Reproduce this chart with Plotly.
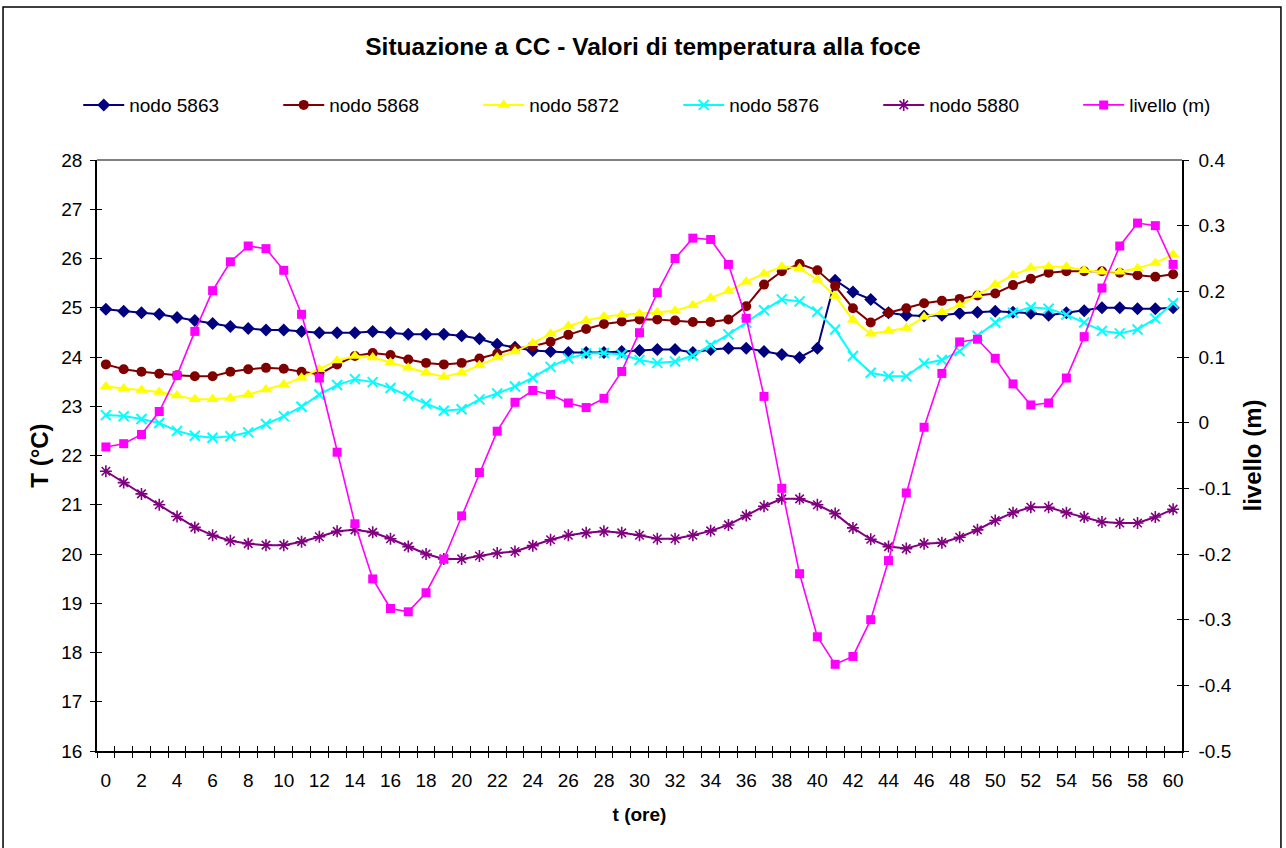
import plotly.graph_objects as go

ore = list(range(0, 61))

nodo_5863 = [24.97, 24.93, 24.90, 24.87, 24.80, 24.74, 24.68, 24.62, 24.58, 24.55,
             24.55, 24.52, 24.49, 24.49, 24.49, 24.52, 24.49, 24.46, 24.46, 24.46,
             24.43, 24.37, 24.26, 24.20, 24.13, 24.11, 24.09, 24.09, 24.09, 24.11,
             24.13, 24.15, 24.15, 24.09, 24.15, 24.18, 24.18, 24.11, 24.05, 23.99,
             24.18, 25.56, 25.32, 25.17, 24.90, 24.85, 24.83, 24.85, 24.89, 24.91,
             24.93, 24.91, 24.89, 24.85, 24.90, 24.94, 25.00, 25.00, 24.98, 24.98, 25.00]

nodo_5868 = [23.85, 23.75, 23.70, 23.66, 23.63, 23.61, 23.61, 23.70, 23.75, 23.78,
             23.76, 23.70, 23.65, 23.85, 24.02, 24.08, 24.04, 23.95, 23.88, 23.85,
             23.88, 23.97, 24.07, 24.17, 24.22, 24.31, 24.45, 24.57, 24.67, 24.72,
             24.76, 24.76, 24.74, 24.71, 24.71, 24.76, 25.03, 25.47, 25.74, 25.89,
             25.76, 25.44, 24.99, 24.70, 24.90, 24.99, 25.09, 25.14, 25.18, 25.25,
             25.29, 25.46, 25.59, 25.71, 25.74, 25.74, 25.74, 25.71, 25.66, 25.63, 25.68]

nodo_5872 = [23.40, 23.36, 23.33, 23.29, 23.22, 23.14, 23.14, 23.17, 23.24, 23.34,
             23.44, 23.58, 23.75, 23.93, 24.02, 23.99, 23.89, 23.78, 23.68, 23.60,
             23.68, 23.83, 23.99, 24.11, 24.28, 24.47, 24.63, 24.74, 24.82, 24.86,
             24.88, 24.91, 24.94, 25.05, 25.20, 25.34, 25.53, 25.69, 25.83, 25.80,
             25.57, 25.24, 24.75, 24.47, 24.53, 24.59, 24.81, 24.91, 25.05, 25.26,
             25.47, 25.66, 25.81, 25.83, 25.83, 25.76, 25.73, 25.73, 25.80, 25.91, 26.08]

nodo_5876 = [22.82, 22.80, 22.74, 22.66, 22.50, 22.40, 22.36, 22.39, 22.47, 22.64,
             22.80, 22.99, 23.24, 23.43, 23.55, 23.49, 23.37, 23.21, 23.05, 22.91,
             22.94, 23.14, 23.26, 23.40, 23.58, 23.80, 23.97, 24.07, 24.08, 24.05,
             23.94, 23.88, 23.91, 24.03, 24.24, 24.46, 24.70, 24.95, 25.17, 25.13,
             24.92, 24.56, 24.02, 23.68, 23.61, 23.61, 23.87, 23.94, 24.12, 24.43,
             24.70, 24.90, 25.01, 24.98, 24.86, 24.70, 24.53, 24.48, 24.56, 24.78, 25.09]

nodo_5880 = [21.68, 21.45, 21.22, 21.00, 20.76, 20.54, 20.38, 20.27, 20.21, 20.18,
             20.18, 20.25, 20.35, 20.46, 20.49, 20.44, 20.31, 20.15, 20.00, 19.90,
             19.90, 19.96, 20.02, 20.05, 20.17, 20.29, 20.38, 20.43, 20.46, 20.43,
             20.38, 20.31, 20.31, 20.38, 20.47, 20.59, 20.78, 20.97, 21.12, 21.12,
             21.00, 20.82, 20.53, 20.30, 20.15, 20.11, 20.21, 20.23, 20.34, 20.49,
             20.68, 20.84, 20.95, 20.95, 20.84, 20.75, 20.65, 20.63, 20.63, 20.75, 20.91]

livello = [-0.037, -0.032, -0.018, 0.017, 0.072, 0.139, 0.201, 0.245, 0.269, 0.265,
           0.232, 0.165, 0.068, -0.045, -0.154, -0.238, -0.283, -0.288, -0.259, -0.208,
           -0.142, -0.076, -0.013, 0.031, 0.049, 0.043, 0.030, 0.023, 0.037, 0.078,
           0.137, 0.198, 0.250, 0.281, 0.279, 0.241, 0.159, 0.040, -0.100, -0.230,
           -0.326, -0.368, -0.356, -0.300, -0.210, -0.107, -0.007, 0.075, 0.123, 0.127,
           0.098, 0.059, 0.027, 0.030, 0.068, 0.131, 0.205, 0.269, 0.304, 0.300, 0.241]

x_tick_vals = list(range(0, 61, 2))
x_tick_text = [str(v) for v in x_tick_vals]
x_minor_vals = [v + 0.5 for v in range(-1, 61)]
y_tick_vals = list(range(16, 29))
y_tick_text = [str(v) for v in y_tick_vals]
y2_tick_vals = [-0.5, -0.4, -0.3, -0.2, -0.1, 0.0, 0.1, 0.2, 0.3, 0.4]
y2_tick_text = ["-0.5", "-0.4", "-0.3", "-0.2", "-0.1", "0", "0.1", "0.2", "0.3", "0.4"]

X_RANGE = [-0.5, 60.5]
Y_RANGE = [16, 28]
Y2_RANGE = [-0.5, 0.4]

FONT = "Liberation Sans, Arial, sans-serif"

fig = go.Figure()

series = [
    ("nodo 5863", nodo_5863, "#000080", dict(symbol="diamond", size=10, color="#000080")),
    ("nodo 5868", nodo_5868, "#800000", dict(symbol="circle", size=10, color="#800000")),
    ("nodo 5872", nodo_5872, "#FFFF00", dict(symbol="triangle-up", size=11, color="#FFFF00")),
    ("nodo 5876", nodo_5876, "#00FFFF", dict(symbol="x-thin", size=10, color="#00FFFF",
                                            line=dict(width=2, color="#00FFFF"))),
    ("nodo 5880", nodo_5880, "#800080", dict(symbol="asterisk", size=10, color="#800080",
                                            line=dict(width=1.6, color="#800080"))),
]
for name, vals, col, mk in series:
    fig.add_trace(go.Scatter(x=ore, y=vals, name=name, mode="lines+markers",
                             line=dict(color=col, width=2), marker=mk,
                             xaxis="x", yaxis="y", legend="legend"))

fig.add_trace(go.Scatter(x=ore, y=livello, name="livello (m)", mode="lines+markers",
                         line=dict(color="#FF00FF", width=1.6),
                         marker=dict(symbol="square", size=9, color="#FF00FF"),
                         xaxis="x", yaxis="y2", legend="legend2"))

# empty helper traces so the inside-tick overlay axes are drawn
fig.add_trace(go.Scatter(x=[], y=[], xaxis="x3", yaxis="y", showlegend=False, hoverinfo="skip"))
fig.add_trace(go.Scatter(x=[], y=[], xaxis="x", yaxis="y3", showlegend=False, hoverinfo="skip"))
fig.add_trace(go.Scatter(x=[], y=[], xaxis="x", yaxis="y4", showlegend=False, hoverinfo="skip"))

tick_font = dict(family=FONT, size=19, color="black")
xtitle_font = dict(family=FONT, size=19, color="black")
ytitle_font = dict(family=FONT, size=24, color="black")
legend_font = dict(family=FONT, size=19, color="black")

legend_common = dict(orientation="h", xanchor="left", y=1.093, yanchor="middle",
                     font=legend_font, itemwidth=41, entrywidth=144,
                     entrywidthmode="pixels", traceorder="normal",
                     bgcolor="rgba(0,0,0,0)")

fig.update_layout(
    width=1286, height=848,
    margin=dict(l=97, r=104, t=160, b=97, autoexpand=False),
    paper_bgcolor="white", plot_bgcolor="white",
    font=dict(family=FONT, size=19, color="black"),
    title=dict(text="<b>Situazione a CC - Valori di temperatura alla foce</b>",
               x=0.5, xanchor="center", y=1 - 46 / 848, yanchor="middle",
               font=dict(family=FONT, size=24.5, color="black")),
    showlegend=True,
    legend=dict(x=-0.0173, **legend_common),
    legend2=dict(x=0.9043, **legend_common),
    xaxis=dict(range=X_RANGE, tickmode="array", tickvals=x_tick_vals, ticktext=x_tick_text,
               ticks="", showgrid=False, zeroline=False, showline=True, linecolor="black",
               linewidth=1.5, tickfont=tick_font, ticklabelstandoff=11,
               minor=dict(tickmode="array", tickvals=x_minor_vals, ticks="outside",
                          ticklen=5, tickcolor="black", tickwidth=1.2, showgrid=False),
               title=dict(text="<b>t (ore)</b>", font=xtitle_font, standoff=18)),
    xaxis3=dict(range=X_RANGE, overlaying="x", anchor="y", tickmode="array",
                tickvals=x_minor_vals, ticks="inside", ticklen=5, tickcolor="black",
                tickwidth=1.2, showticklabels=False, showgrid=False, zeroline=False,
                showline=False),
    yaxis=dict(range=Y_RANGE, tickmode="array", tickvals=y_tick_vals, ticktext=y_tick_text,
               ticks="outside", ticklen=5, tickcolor="black", tickwidth=1.2,
               showgrid=False, zeroline=False, showline=True, linecolor="black",
               linewidth=1.5, tickfont=tick_font, ticklabelstandoff=4,
               title=dict(text="<b>T (°C)</b>", font=ytitle_font, standoff=6)),
    yaxis3=dict(range=Y_RANGE, overlaying="y", anchor="x", side="left", tickmode="array",
                tickvals=y_tick_vals, ticks="inside", ticklen=5, tickcolor="black",
                tickwidth=1.2, showticklabels=False, showgrid=False, zeroline=False,
                showline=False),
    yaxis2=dict(range=Y2_RANGE, overlaying="y", side="right", anchor="x", tickmode="array",
                tickvals=y2_tick_vals, ticktext=y2_tick_text, ticks="outside", ticklen=5,
                tickcolor="black", tickwidth=1.2, showgrid=False, zeroline=False,
                showline=True, linecolor="black", linewidth=1.5, tickfont=tick_font,
                ticklabelstandoff=6,
                title=dict(text="<b>livello (m)</b>", font=ytitle_font, standoff=13)),
    yaxis4=dict(range=Y2_RANGE, overlaying="y", side="right", anchor="x", tickmode="array",
                tickvals=y2_tick_vals, ticks="inside", ticklen=5, tickcolor="black",
                tickwidth=1.2, showticklabels=False, showgrid=False, zeroline=False,
                showline=False),
    shapes=[
        dict(type="line", xref="paper", yref="paper", x0=0, x1=1, y0=1, y1=1,
             line=dict(color="#808080", width=2)),
        dict(type="rect", xref="paper", yref="paper", x0=-0.0866, x1=1.0912,
             y0=-0.2, y1=1.2589, line=dict(color="black", width=1.5),
             fillcolor="rgba(0,0,0,0)", layer="below"),
    ],
)

fig.write_html("out.html", config={"displayModeBar": False},
               post_script="document.body.style.margin='0';document.body.style.padding='0';")
